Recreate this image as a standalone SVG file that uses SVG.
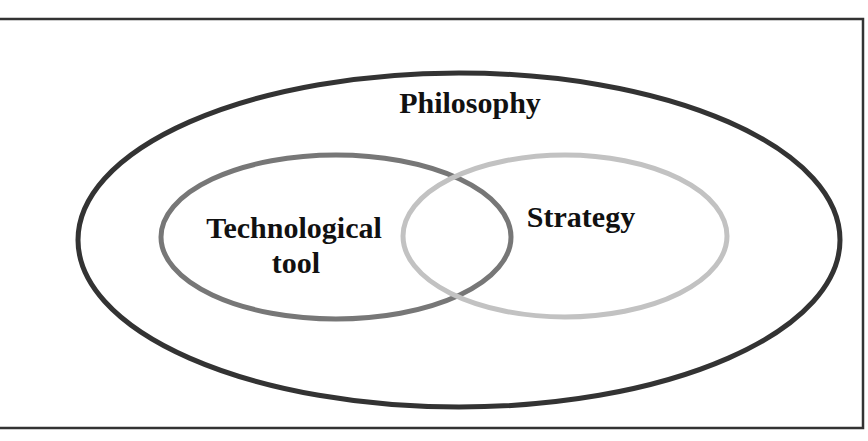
<svg xmlns="http://www.w3.org/2000/svg" width="868" height="441" viewBox="0 0 868 441">
<style>
.lbl{font-family:"Liberation Serif","Times New Roman",serif;font-weight:bold;font-size:30px;fill:#111;text-anchor:middle}
.ell{fill:none}
</style>
<rect x="0" y="0" width="868" height="441" fill="#fff"/>
<rect id="frame" x="-2" y="19" width="865" height="409" fill="none" stroke="#333" stroke-width="2.5"/>
<g id="philosophy">
<ellipse class="ell" cx="459" cy="240" rx="381" ry="167" stroke="#333" stroke-width="5"/>
<text class="lbl" x="470" y="113">Philosophy</text>
</g>
<g id="technological-tool">
<ellipse class="ell" cx="336" cy="237" rx="175" ry="82" stroke="#777" stroke-width="5"/>
<text class="lbl" x="294" y="238">Technological</text>
<text class="lbl" x="296" y="273">tool</text>
</g>
<g id="strategy">
<ellipse class="ell" cx="565" cy="236" rx="162" ry="81" stroke="#c2c2c2" stroke-width="5"/>
<text class="lbl" x="581" y="227">Strategy</text>
</g>
<g id="connectors"></g>
</svg>
